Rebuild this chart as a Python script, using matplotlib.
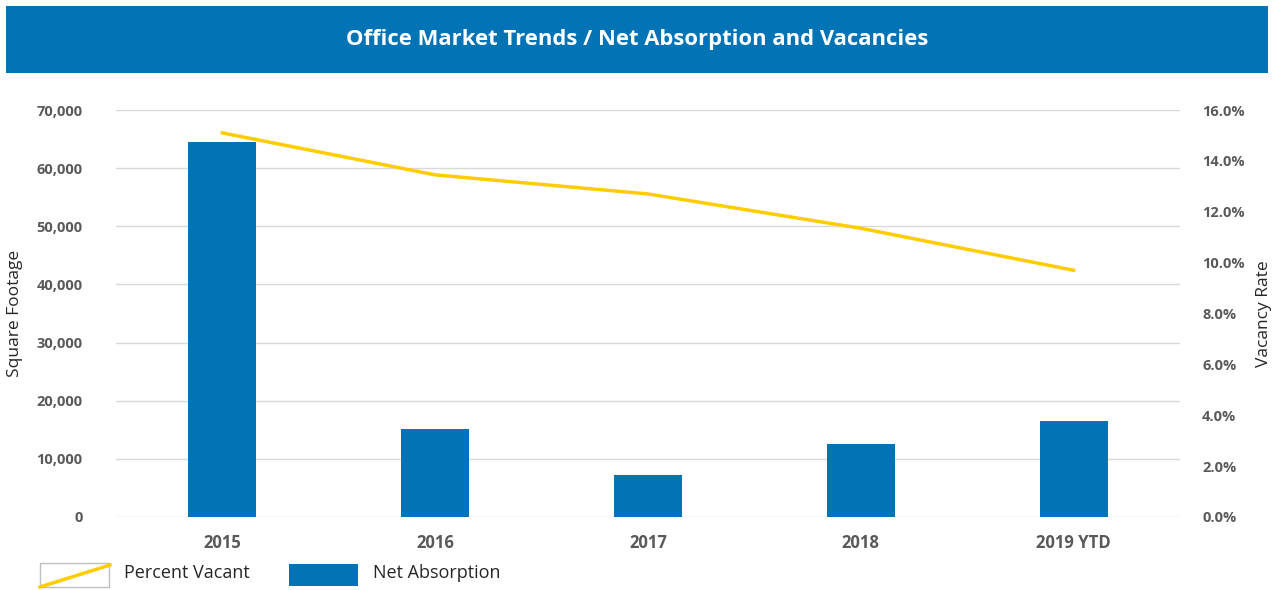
import matplotlib
matplotlib.use("Agg")
import matplotlib.pyplot as plt
from matplotlib.patches import Rectangle
from matplotlib.lines import Line2D
from matplotlib.ticker import FuncFormatter, MultipleLocator
import numpy as np

categories = ["2015", "2016", "2017", "2018", "2019 YTD"]
net_absorption = [64500, 15200, 7300, 12600, 16500]
percent_vacant = [15.1, 13.45, 12.7, 11.35, 9.7]

BLUE = "#0273B5"
YELLOW = "#FFCC00"
GRAY = "#595959"
FONT = ["Open Sans", "DejaVu Sans"]
plt.rcParams['font.family'] = FONT

W, H = 1274, 590
fig = plt.figure(figsize=(W / 100, H / 100), dpi=100)

# Title banner
fig.patches.append(Rectangle((6 / W, 1 - 73 / H), (1268 - 6) / W, 67 / H,
                             transform=fig.transFigure, facecolor="#0273B5",
                             edgecolor="none", zorder=0))
fig.text(0.5, 1 - 40 / H, "Office Market Trends / Net Absorption and Vacancies",
         ha="center", va="center", color="white", fontsize=15.8, fontweight="bold")

left, right, bottom, top = 116, 1180, 517, 110
ax = fig.add_axes([left / W, 1 - bottom / H, (right - left) / W, (bottom - top) / H])
x = np.arange(len(categories))
ax.bar(x, net_absorption, width=0.32, color=BLUE, zorder=3)
ax.set_xlim(-0.5, len(categories) - 0.5)
ax.set_ylim(0, 70000)
ax.yaxis.set_major_locator(MultipleLocator(10000))
ax.yaxis.set_major_formatter(FuncFormatter(lambda v, p: f"{int(v):,}"))
ax.grid(axis="y", color="#D9D9D9", linewidth=1, zorder=0)
ax.set_axisbelow(True)
for s in ax.spines.values():
    s.set_visible(False)
ax.tick_params(axis="y", length=0, pad=24, labelsize=10.5, labelcolor=GRAY)
ax.tick_params(axis="x", length=0, pad=12, labelsize=12, labelcolor=GRAY)
ax.set_xticks(x)
ax.set_xticklabels(categories, fontweight="bold")
for t in ax.get_yticklabels():
    t.set_fontweight("bold")
ax.set_ylabel("Square Footage", fontsize=12.5, color="#262626")
ax.yaxis.label.set_va("center")
ax.yaxis.set_label_coords((15 - left) / (right - left), 0.5)

ax2 = ax.twinx()
ax2.plot(x, percent_vacant, color=YELLOW, linewidth=2.5, zorder=4)
ax2.set_ylim(0, 16)
ax2.yaxis.set_major_locator(MultipleLocator(2))
ax2.yaxis.set_major_formatter(FuncFormatter(lambda v, p: f"{v:.1f}%"))
for s in ax2.spines.values():
    s.set_visible(False)
ax2.tick_params(axis="y", length=0, pad=16, labelsize=10.5, labelcolor=GRAY)
for t in ax2.get_yticklabels():
    t.set_fontweight("bold")
ax2.set_ylabel("Vacancy Rate", fontsize=12.5, color="#262626")
ax2.yaxis.label.set_va("center")
ax2.yaxis.set_label_coords((1264 - left) / (right - left), 0.5)

# Legend (bottom)
fig.patches.append(Rectangle((40 / W, 1 - 587 / H), 69 / W, 24 / H,
                             transform=fig.transFigure, facecolor="white",
                             edgecolor="#BFBFBF", linewidth=1))
fig.lines.append(Line2D([40 / W, 110 / W], [1 - 587 / H, 1 - 565 / H],
                        transform=fig.transFigure, color=YELLOW, linewidth=2.5))
fig.text(124 / W, 1 - 573 / H, "Percent Vacant", ha="left", va="center",
         fontsize=13, color="#262626")
fig.patches.append(Rectangle((289 / W, 1 - 586 / H), 69 / W, 22 / H,
                             transform=fig.transFigure, facecolor=BLUE,
                             edgecolor="none"))
fig.text(373 / W, 1 - 573 / H, "Net Absorption", ha="left", va="center",
         fontsize=13, color="#262626")

fig.savefig("out.png", dpi=100)
